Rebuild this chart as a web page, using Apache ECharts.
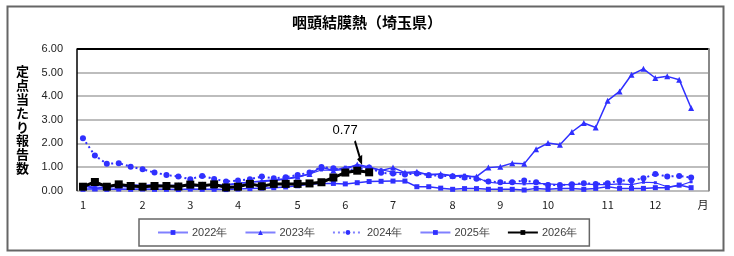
<!DOCTYPE html>
<html>
<head>
<meta charset="utf-8">
<script src="https://cdn.jsdelivr.net/npm/echarts@6/dist/echarts.min.js"></script>
<style>
  html, body { margin: 0; padding: 0; background: #fff; }
  #chart { width: 734px; height: 256px; }
</style>
</head>
<body>
<div id="chart"></div>
<script>
// week categories (53 slots), month number shown at the first week of each month
const weekLabels = [
  '1', '', '', '', '', '2', '', '', '', '3', '', '', '', '4', '', '', '', '', '5', '', '', '', '6', '', '', '',
  '7', '', '', '', '', '8', '', '', '', '9', '', '', '', '10', '', '', '', '', '11', '', '', '', '12', '', '', '', '月'
];

const yTickLabels = ['0.00', '1.00', '2.00', '3.00', '4.00', '5.00', '6.00'];

const seriesNames = ['2022年', '2023年', '2024年', '2025年', '2026年'];

const y2022 = [0.05, 0.07, 0.05, 0.06, 0.05, 0.06, 0.05, 0.05, 0.04, 0.06, 0.05, 0.05, 0.04,
  0.06, 0.08, 0.10, 0.12, 0.15, 0.20, 0.26, 0.30, 0.30, 0.28, 0.33, 0.38, 0.39, 0.40,
  0.40, 0.16, 0.16, 0.10, 0.05, 0.08, 0.08, 0.05, 0.05, 0.05, 0.02, 0.09, 0.05, 0.09,
  0.09, 0.05, 0.09, 0.16, 0.09, 0.09, 0.09, 0.12, 0.12, 0.23, 0.12];

const y2023 = [0.20, 0.10, 0.15, 0.18, 0.15, 0.20, 0.18, 0.20, 0.22, 0.20, 0.25, 0.20, 0.22,
  0.30, 0.35, 0.40, 0.45, 0.50, 0.58, 0.70, 0.99, 0.85, 0.90, 1.10, 1.00, 0.85, 0.97,
  0.76, 0.80, 0.66, 0.70, 0.63, 0.59, 0.59, 0.97, 1.01, 1.16, 1.13, 1.75, 2.01, 1.94,
  2.48, 2.86, 2.67, 3.81, 4.20, 4.91, 5.16, 4.77, 4.84, 4.70, 3.50];

const y2024 = [2.22, 1.48, 1.13, 1.16, 1.01, 0.90, 0.76, 0.66, 0.59, 0.48, 0.62, 0.49, 0.38,
  0.42, 0.48, 0.59, 0.52, 0.56, 0.66, 0.76, 1.00, 0.94, 0.87, 0.90, 0.97, 0.75, 0.72,
  0.68, 0.72, 0.65, 0.62, 0.60, 0.55, 0.50, 0.38, 0.35, 0.35, 0.42, 0.35, 0.23, 0.23,
  0.26, 0.31, 0.28, 0.31, 0.42, 0.42, 0.52, 0.70, 0.59, 0.62, 0.55];

const y2025 = [0.15, 0.20, 0.22, 0.20, 0.25, 0.22, 0.25, 0.20, 0.22, 0.18, 0.20, 0.22, 0.25,
  0.30, 0.37, 0.37, 0.42, 0.48, 0.55, 0.70, 0.87, 0.85, 0.99, 1.05, 0.95, 0.88, 0.78,
  0.75, 0.72, 0.70, 0.68, 0.62, 0.65, 0.55, 0.35, 0.30, 0.30, 0.28, 0.30, 0.28, 0.25,
  0.25, 0.28, 0.25, 0.25, 0.28, 0.25, 0.35, 0.33, 0.16, 0.20, 0.37];

const y2026 = [0.16, 0.36, 0.16, 0.26, 0.19, 0.16, 0.19, 0.19, 0.17, 0.25, 0.20, 0.26, 0.13,
  0.16, 0.28, 0.18, 0.28, 0.28, 0.28, 0.30, 0.35, 0.55, 0.76, 0.84, 0.77];

const latestIndex = y2026.length - 1;
const latestValue = y2026[latestIndex];

const blue = '#3030ff';
const jp = '"Noto Sans CJK JP", sans-serif';
const latin = '"Liberation Sans", Arial, sans-serif';

// arrow shape pointing down-right, tip near the bottom-right corner of its box
const arrowPath = 'path://M2.84,0 L11.17,15.99 L14.19,14.41 L13.92,24.72 L5.31,19.04 L8.33,17.47 L0,1.48 Z';

const chart = echarts.init(document.getElementById('chart'), null, { renderer: 'canvas' });

const options = {
  animation: false,
  backgroundColor: '#ffffff',
  title: {
    text: '咽頭結膜熱（埼玉県）',
    left: 'center',
    top: 10,
    textStyle: { fontFamily: jp, fontSize: 15, fontWeight: 'bold', color: '#000' }
  },
  graphic: [{
    type: 'rect',
    left: 5, top: 4,
    shape: { width: 716, height: 244 },
    style: { fill: 'none', stroke: '#666', lineWidth: 2 },
    silent: true
  }],
  legend: {
    left: 139,
    top: 219,
    padding: [8, 12, 8, 18],
    itemGap: 17,
    itemWidth: 30,
    itemHeight: 6,
    borderColor: '#666',
    borderWidth: 1.5,
    textStyle: { fontFamily: latin, fontSize: 11, color: '#404040', padding: [0, 0, 0, -1] },
    data: seriesNames.map((n, i) => (i === 4 ? { name: n } : { name: n, lineStyle: { color: '#8080ff' } }))
  },
  grid: {
    left: 77,
    right: 25,
    top: 49,
    bottom: 65.5
  },
  xAxis: {
    type: 'category',
    data: weekLabels,
    boundaryGap: true,
    axisLine: { show: false },
    axisTick: { show: false },
    axisLabel: { interval: 0, margin: 9, fontFamily: jp, fontSize: 11, color: '#222' }
  },
  yAxis: [{
    type: 'value',
    min: 0,
    max: 6,
    interval: 1,
    name: '定点当たり報告数'.split('').join('\n'),
    nameLocation: 'middle',
    nameGap: 48,
    nameRotate: 0,
    nameTextStyle: { fontFamily: jp, fontSize: 13, fontWeight: 'bold', lineHeight: 13.8, color: '#000' },
    axisLine: { show: true, lineStyle: { color: '#000', width: 1.5 } },
    axisTick: { show: false },
    axisLabel: {
      margin: 14,
      fontFamily: latin,
      fontSize: 11,
      color: '#222',
      formatter: (v) => yTickLabels[Math.round(v)]
    },
    splitLine: {
      show: true,
      lineStyle: { color: ['#bdbdbd', '#bdbdbd', '#bdbdbd', '#bdbdbd', '#bdbdbd', '#bdbdbd', '#000'], width: 1.8 }
    }
  }, {
    type: 'value',
    position: 'right',
    min: 0,
    max: 6,
    interval: 1,
    axisLine: { show: true, lineStyle: { color: '#888', width: 2 } },
    axisTick: { show: false },
    axisLabel: { show: false },
    splitLine: { show: false }
  }],
  series: [{
    name: seriesNames[0],
    type: 'line',
    data: y2022,
    symbol: 'rect',
    symbolSize: 5,
    showAllSymbol: true,
    lineStyle: { color: blue, width: 1.5 },
    itemStyle: { color: blue }
  }, {
    name: seriesNames[1],
    type: 'line',
    data: y2023,
    symbol: 'triangle',
    symbolSize: 6,
    showAllSymbol: true,
    lineStyle: { color: blue, width: 1.5 },
    itemStyle: { color: blue }
  }, {
    name: seriesNames[2],
    type: 'line',
    data: y2024,
    symbol: 'circle',
    symbolSize: 6,
    showAllSymbol: true,
    lineStyle: { color: blue, width: 2, type: [2, 3] },
    itemStyle: { color: blue }
  }, {
    name: seriesNames[3],
    type: 'line',
    data: y2025,
    symbol: 'rect',
    symbolSize: 3,
    showAllSymbol: true,
    lineStyle: { color: blue, width: 1.2 },
    itemStyle: { color: blue }
  }, {
    name: seriesNames[4],
    type: 'line',
    data: y2026,
    symbol: 'rect',
    symbolSize: 8,
    showAllSymbol: true,
    lineStyle: { color: '#000', width: 3 },
    itemStyle: { color: '#000' },
    markPoint: {
      symbol: arrowPath,
      symbolSize: [14.19, 24.72],
      symbolKeepAspect: true,
      symbolOffset: [-11, -19.7],
      itemStyle: { color: '#000' },
      label: {
        show: true,
        position: 'top',
        distance: 3,
        offset: [-13, 0],
        fontFamily: latin,
        fontSize: 13,
        color: '#000',
        formatter: (p) => p.value.toFixed(2)
      },
      data: [{ coord: [latestIndex, latestValue], value: latestValue }]
    }
  }]
};

chart.setOption(options);
</script>
</body>
</html>
